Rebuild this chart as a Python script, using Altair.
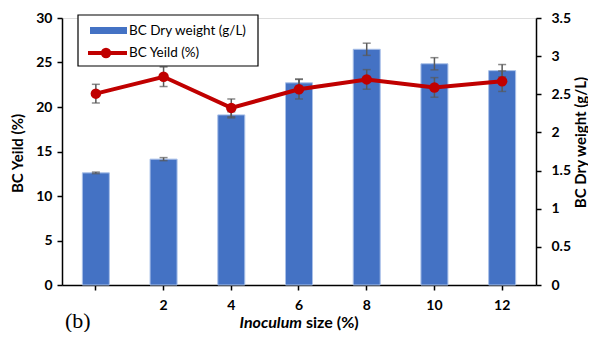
import altair as alt
import pandas as pd

# Inoculum size categories (first tick has no label in the reference)
categories = ["0", "2", "4", "6", "8", "10", "12"]
# BC dry weight (g/L), right axis
dry_weight = [1.47, 1.65, 2.23, 2.65, 3.09, 2.90, 2.81]
dry_err = [0.01, 0.02, 0.04, 0.05, 0.08, 0.08, 0.08]
# BC yield (%), left axis
bc_yield = [21.5, 23.4, 19.9, 22.0, 23.1, 22.2, 22.9]
yield_err = [1.05, 1.1, 1.0, 1.1, 1.1, 1.1, 1.15]

df = pd.DataFrame({
    "cat": categories,
    "dry": dry_weight,
    "dry_lo": [v - e for v, e in zip(dry_weight, dry_err)],
    "dry_hi": [v + e for v, e in zip(dry_weight, dry_err)],
    "yld": bc_yield,
    "yld_lo": [v - e for v, e in zip(bc_yield, yield_err)],
    "yld_hi": [v + e for v, e in zip(bc_yield, yield_err)],
})

FONT = "Lato"
W, H = 474, 267

x_enc = alt.X(
    "cat:N", sort=categories, scale=alt.Scale(domain=categories),
    axis=alt.Axis(title=None, labelAngle=0, labelExpr="datum.value == '0' ? '' : datum.label",
                  labelFont=FONT, labelFontSize=14, labelFontWeight="bold", labelColor="black",
                  domainColor="black", domainWidth=1.5, tickColor="black", tickWidth=1.5,
                  tickSize=5, labelPadding=8),
)

base = alt.Chart(df)

dry_scale = alt.Scale(domain=[0, 3.5])
yld_scale = alt.Scale(domain=[0, 30])

dry_axis = alt.Axis(
    orient="right", values=[0, 0.5, 1, 1.5, 2, 2.5, 3, 3.5], format="~g", grid=False,
    title="BC Dry weight (g/L)", titleFont=FONT, titleFontSize=15, titleFontWeight="bold",
    titleColor="black", titleAngle=270, titleX=44, titleY=124, titleAlign="center",
    titleBaseline="middle",
    labelFont=FONT, labelFontSize=14, labelFontWeight="bold", labelColor="black",
    labelPadding=10, domainColor="black", domainWidth=1.5, tickColor="black",
    tickWidth=1.5, tickSize=5)
yld_axis = alt.Axis(
    orient="left", values=[0, 5, 10, 15, 20, 25, 30], grid=False,
    title="BC Yeild (%)", titleFont=FONT, titleFontSize=15, titleFontWeight="bold",
    titleColor="black", titleAngle=270, titleX=-44.5, titleY=135, titleAlign="center",
    titleBaseline="middle",
    labelFont=FONT, labelFontSize=14, labelFontWeight="bold", labelColor="black",
    labelPadding=5, domainColor="black", domainWidth=1.5, tickColor="black",
    tickWidth=1.5, tickSize=5)

bars = base.mark_bar(size=27, color="#4472C4", stroke="#A9C0E8", strokeWidth=1).encode(
    x=x_enc, y=alt.Y("dry:Q", scale=dry_scale, axis=dry_axis))
dry_rule = base.mark_rule(color="#595959", strokeWidth=1.5).encode(
    x=x_enc, y=alt.Y("dry_lo:Q", scale=dry_scale, axis=dry_axis), y2="dry_hi:Q")
dry_caps_lo = base.mark_tick(color="#595959", size=8, thickness=1.5).encode(
    x=x_enc, y=alt.Y("dry_lo:Q", scale=dry_scale, axis=dry_axis))
dry_caps_hi = base.mark_tick(color="#595959", size=8, thickness=1.5).encode(
    x=x_enc, y=alt.Y("dry_hi:Q", scale=dry_scale, axis=dry_axis))
dry_layer = alt.layer(bars, dry_rule, dry_caps_lo, dry_caps_hi)

line = base.mark_line(color="#C00000", strokeWidth=4).encode(
    x=x_enc, y=alt.Y("yld:Q", scale=yld_scale, axis=yld_axis))
yld_rule = base.mark_rule(color="#595959", strokeWidth=1.5).encode(
    x=x_enc, y=alt.Y("yld_lo:Q", scale=yld_scale, axis=yld_axis), y2="yld_hi:Q")
yld_caps_lo = base.mark_tick(color="#595959", size=8, thickness=1.5).encode(
    x=x_enc, y=alt.Y("yld_lo:Q", scale=yld_scale, axis=yld_axis))
yld_caps_hi = base.mark_tick(color="#595959", size=8, thickness=1.5).encode(
    x=x_enc, y=alt.Y("yld_hi:Q", scale=yld_scale, axis=yld_axis))
points = base.mark_point(filled=True, color="#C00000", size=110, opacity=1).encode(
    x=x_enc, y=alt.Y("yld:Q", scale=yld_scale, axis=yld_axis))
yld_layer = alt.layer(line, yld_rule, yld_caps_lo, yld_caps_hi, points)

# Legend (decoration)
leg = alt.Chart(pd.DataFrame({"k": [0]}))
leg_box = leg.mark_rect(fill="white", stroke="black", strokeWidth=1.2).encode(
    x=alt.value(16), x2=alt.value(196), y=alt.value(-3), y2=alt.value(48))
leg_bar = leg.mark_rect(fill="#4472C4").encode(
    x=alt.value(28), x2=alt.value(65), y=alt.value(9), y2=alt.value(16))
leg_line = leg.mark_rule(color="#C00000", strokeWidth=4).encode(
    x=alt.value(26), x2=alt.value(65), y=alt.value(35))
leg_pt = leg.mark_point(filled=True, color="#C00000", size=110, opacity=1).encode(
    x=alt.value(44), y=alt.value(35))
leg_t1 = leg.mark_text(text="BC Dry weight (g/L)", align="left", baseline="middle",
                       font=FONT, fontSize=13.5, color="black").encode(
    x=alt.value(67), y=alt.value(12.5))
leg_t2 = leg.mark_text(text="BC Yeild (%)", align="left", baseline="middle",
                       font=FONT, fontSize=13.5, color="black").encode(
    x=alt.value(67), y=alt.value(35))

# x-axis title with italic part, and panel label
xt1 = leg.mark_text(text="Inoculum", align="right", baseline="middle", font=FONT,
                    fontSize=16, fontWeight="bold", fontStyle="italic", color="black").encode(
    x=alt.value(240), y=alt.value(305))
xt2 = leg.mark_text(text="size (%)", align="left", baseline="middle", font=FONT,
                    fontSize=16, fontWeight="bold", color="black").encode(
    x=alt.value(244), y=alt.value(305))
panel = leg.mark_text(text="(b)", align="left", baseline="middle", font="Liberation Serif",
                      fontSize=22, color="black").encode(
    x=alt.value(3), y=alt.value(303))

chart = alt.layer(
    dry_layer, yld_layer, leg_box, leg_bar, leg_line, leg_pt, leg_t1, leg_t2, xt1, xt2, panel
).resolve_scale(y="independent").properties(
    width=W, height=H,
    autosize=alt.AutoSizeParams(type="none"),
    padding={"left": 54, "top": 10, "right": 52, "bottom": 47},
).configure_view(stroke=None).configure(background="white")

chart.save("out.html", embed_options={"renderer": "svg", "actions": False})
